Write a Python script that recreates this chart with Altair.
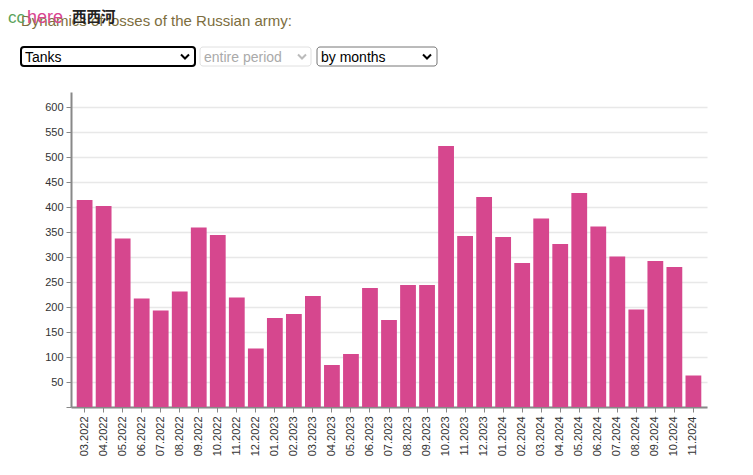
import altair as alt
import pandas as pd

months = ["03.2022", "04.2022", "05.2022", "06.2022", "07.2022", "08.2022", "09.2022",
          "10.2022", "11.2022", "12.2022", "01.2023", "02.2023", "03.2023", "04.2023",
          "05.2023", "06.2023", "07.2023", "08.2023", "09.2023", "10.2023", "11.2023",
          "12.2023", "01.2024", "02.2024", "03.2024", "04.2024", "05.2024", "06.2024",
          "07.2024", "08.2024", "09.2024", "10.2024", "11.2024"]
tanks = [414, 402, 337, 217, 193, 231, 359, 344, 219, 117, 178, 186, 222, 84,
         106, 238, 174, 244, 244, 522, 342, 420, 340, 288, 377, 326, 428, 361,
         301, 195, 292, 280, 63]
y_ticks = [0, 50, 100, 150, 200, 250, 300, 350, 400, 450, 500, 550, 600]

title_text = "Dynamics of losses of the Russian army:"
select_labels = ["Tanks", "entire period", "by months"]

FONT = "Liberation Sans"
BAR = "#d6478e"

df = pd.DataFrame({"month": months, "value": tanks})
one = pd.DataFrame({"k": [0]})

bars = alt.Chart(df).mark_bar(color=BAR).encode(
    x=alt.X("month:N", sort=months, title=None,
            scale=alt.Scale(paddingInner=0.17, paddingOuter=0.3),
            axis=alt.Axis(labelAngle=-90, labelFontSize=11, labelColor="#333",
                          labelFont=FONT, labelAlign="right", labelBaseline="middle",
                          labelPadding=4, tickSize=5, tickColor="#888",
                          domainColor="#888", domainWidth=2, grid=False)),
    y=alt.Y("value:Q", title=None, scale=alt.Scale(domain=[0, 630], nice=False),
            axis=alt.Axis(values=y_ticks, labelFontSize=11, labelColor="#333",
                          labelFont=FONT, labelExpr="datum.value == 0 ? '' : datum.label",
                          tickSize=5, tickColor="#888", domainColor="#888",
                          domainWidth=2, gridColor="#e8e8e8", gridWidth=1.5,
                          labelPadding=3)),
)

base = alt.Chart(one)

def txt(s, x, y, size, color, weight="normal", font=FONT):
    return base.mark_text(text=s, align="left", baseline="alphabetic", fontSize=size,
                          color=color, fontWeight=weight, font=font).encode(
        x=alt.value(x), y=alt.value(y))

def box(x, x2, stroke, sw):
    return base.mark_rect(fill="white", stroke=stroke, strokeWidth=sw, cornerRadius=3).encode(
        x=alt.value(x), x2=alt.value(x2), y=alt.value(-45), y2=alt.value(-26))

def chev(x, color):
    return base.mark_point(shape="M-0.8,-0.4L0,0.4L0.8,-0.4", size=100, filled=False,
                           strokeWidth=2, color=color, opacity=1).encode(
        x=alt.value(x), y=alt.value(-35.5))

deco = [
    txt(title_text, -50, -66, 15, "#7d6e3e"),
    txt("cc", -63, -69, 17, "#5aa25a"),
    txt("here", -44, -69, 18, "#d9458f"),
    txt("西西河", 1, -70, 14.5, "#222", "bold", "Noto Sans CJK SC"),
    box(-50, 124, "#000", 2),
    txt(select_labels[0], -46, -30, 14, "#000"),
    chev(114, "#000"),
    box(129, 240, "#e0e0e0", 1),
    txt(select_labels[1], 133, -30, 14, "#aaa"),
    chev(231, "#bbb"),
    box(246, 366, "#767676", 1),
    txt(select_labels[2], 250, -30, 14, "#000"),
    chev(356, "#000"),
]

chart = alt.layer(bars, *deco).properties(
    width=636, height=315,
    autosize=alt.AutoSizeParams(type="none"),
    padding={"left": 63, "top": 84, "right": 30, "bottom": 55},
).configure_view(stroke=None)

chart.save("out.html", embed_options={"renderer": "svg", "actions": False})
